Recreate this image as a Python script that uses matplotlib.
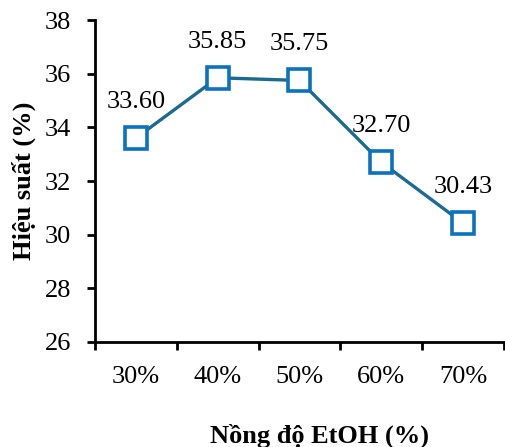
import matplotlib
matplotlib.use("Agg")
import matplotlib.pyplot as plt

categories = ["30%", "40%", "50%", "60%", "70%"]
values = [33.60, 35.85, 35.75, 32.70, 30.43]
labels = ["33.60", "35.85", "35.75", "32.70", "30.43"]
yticks = [26, 28, 30, 32, 34, 36, 38]

plt.rcParams['font.family'] = ['Liberation Serif', 'DejaVu Serif']
fs = 19

fig = plt.figure(figsize=(5.05, 4.47), dpi=100)
ax = fig.add_axes([0.188, 0.235, 0.81, 0.72])
x = list(range(len(categories)))
ax.plot(x, values, color='#1b6a8f', lw=2.4, marker='s', markersize=16,
        markerfacecolor='white', markeredgecolor='#0b72c0', markeredgewidth=2.6, zorder=3)
for xi, v, t in zip(x, values, labels):
    ax.annotate(t, (xi, v), xytext=(0, 18), textcoords='offset points',
                ha='center', va='bottom', fontsize=fs)
ax.set_xlim(-0.5, 4.5)
ax.set_ylim(26, 38)
ax.set_yticks(yticks)
ax.set_xticks(x)
ax.set_xticklabels(categories, fontsize=fs)
ax.set_xticks([i - 0.5 for i in range(len(categories) + 1)], minor=True)
ax.tick_params(axis='x', which='major', length=0, pad=17)
ax.tick_params(axis='x', which='minor', length=6, width=2, direction='out')
ax.tick_params(axis='y', labelsize=fs, length=6, width=2, direction='out', pad=11)
for s in ['top', 'right']:
    ax.spines[s].set_visible(False)
for s in ['left', 'bottom']:
    ax.spines[s].set_linewidth(2)
ax.set_ylabel("Hiệu suất (%)", fontsize=fs, fontweight='bold', labelpad=6)
fig.text(320 / 505, 1 - 436 / 447, "Nồng độ EtOH (%)", fontsize=fs, fontweight='bold',
         ha='center', va='center')
fig.savefig("out.png", dpi=100)
